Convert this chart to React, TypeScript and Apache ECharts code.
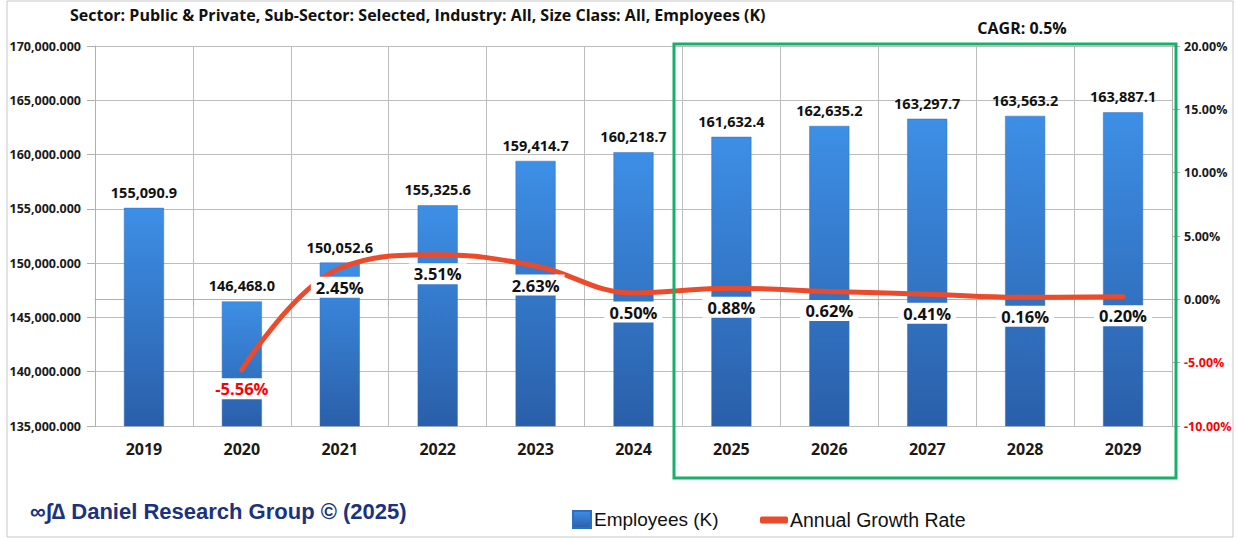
import React, { useEffect, useRef } from "react";
import * as echarts from "echarts";

const categories = ["2019", "2020", "2021", "2022", "2023", "2024", "2025", "2026", "2027", "2028", "2029"];
const employees = [155090.9, 146468.0, 150052.6, 155325.6, 159414.7, 160218.7, 161632.4, 162635.2, 163297.7, 163563.2, 163887.1];
const growth: (number | null)[] = [null, -5.56, 2.45, 3.51, 2.63, 0.5, 0.88, 0.62, 0.41, 0.16, 0.2];
const titleText = "Sector: Public & Private, Sub-Sector: Selected, Industry: All, Size Class: All, Employees (K)";
const cagrText = "CAGR: 0.5%";
const logoText = "\u221e\u222b\u2206 Daniel Research Group \u00a9 (2025)";

const FONT = "'Open Sans', Lato, sans-serif";
const NARROW = "'Liberation Sans Narrow', 'Liberation Sans', sans-serif";

export default function App() {
  const ref = useRef<HTMLDivElement>(null);
  useEffect(() => {
    document.body.style.margin = "0";
    if (!ref.current) return;
    const chart = echarts.init(ref.current, null, { renderer: "svg" });
    const option: any = {
      animation: false,
      backgroundColor: "#ffffff",
      textStyle: { fontFamily: FONT },
      grid: { left: 95, right: 65, top: 46, bottom: 113 },
      xAxis: {
        type: "category",
        data: categories,
        boundaryGap: true,
        axisLine: { lineStyle: { color: "#b0b0b0" } },
        axisTick: { show: true, length: 6, lineStyle: { color: "#b0b0b0" } },
        splitLine: { show: true, lineStyle: { color: "#bdbdbd" } },
        axisLabel: { color: "#1a1a1a", fontWeight: "bold", fontSize: 16, margin: 15, fontFamily: FONT },
      },
      yAxis: [
        {
          type: "value",
          min: 135000,
          max: 170000,
          interval: 5000,
          axisLine: { show: true, lineStyle: { color: "#b0b0b0" } },
          axisTick: { show: true, length: 8, lineStyle: { color: "#b0b0b0" } },
          splitLine: { show: true, lineStyle: { color: "#bdbdbd" } },
          axisLabel: {
            color: "#1a1a1a",
            fontWeight: "bold",
            fontSize: 12.5,
            margin: 14,
            fontFamily: FONT,
            formatter: (v: number) =>
              v.toLocaleString("en-US", { minimumFractionDigits: 3, maximumFractionDigits: 3 }),
          },
        },
        {
          type: "value",
          min: -10,
          max: 20,
          interval: 5,
          position: "right",
          axisLine: { show: true, lineStyle: { color: "#b0b0b0" } },
          axisTick: { show: true, length: 8, lineStyle: { color: "#b0b0b0" } },
          splitLine: { show: false },
          axisLabel: {
            fontWeight: "bold",
            fontSize: 12.5,
            margin: 12,
            fontFamily: FONT,
            formatter: (v: number) => v.toFixed(2) + "%",
            color: (v: any) => (Number(v) < 0 ? "#ff0000" : "#1a1a1a"),
          },
        },
      ],
      legend: [
        {
          data: [{ name: "Employees (K)", icon: "rect" }],
          left: 572,
          top: 510,
          itemWidth: 18,
          itemHeight: 17,
          itemGap: 4,
          padding: 0,
          textStyle: { fontSize: 19, color: "#111", fontFamily: NARROW, padding: [0, 0, 0, -2] },
        },
        {
          data: [{ name: "Annual Growth Rate", icon: "roundRect" }],
          left: 760,
          top: 510,
          itemWidth: 28,
          itemHeight: 7,
          padding: 0,
          textStyle: { fontSize: 19.5, color: "#111", fontFamily: NARROW, padding: [0, 0, 0, -3] },
        },
      ],
      series: [
        {
          name: "Employees (K)",
          type: "bar",
          yAxisIndex: 0,
          barWidth: 40,
          data: employees,
          itemStyle: {
            color: new echarts.graphic.LinearGradient(0, 0, 0, 1, [
              { offset: 0, color: "#3d8fe6" },
              { offset: 1, color: "#2a5fa9" },
            ]),
            borderColor: "#2f6fc0",
            borderWidth: 0.5,
          },
          label: {
            show: true,
            position: "top",
            distance: 8,
            color: "#111",
            fontWeight: "bold",
            fontSize: 14.5,
            fontFamily: FONT,
            formatter: (p: any) =>
              Number(p.value).toLocaleString("en-US", { minimumFractionDigits: 1, maximumFractionDigits: 1 }),
          },
          z: 2,
        },
        {
          name: "Annual Growth Rate",
          type: "line",
          yAxisIndex: 1,
          smooth: 0.4,
          symbol: "circle",
          symbolSize: 1,
          itemStyle: { color: "#ec4b2b" },
          lineStyle: { color: "#ec4b2b", width: 5, cap: "round" },
          data: growth.map((g) =>
            g === null ? null : g < 0 ? { value: g, label: { color: "#ff0000" } } : g
          ),
          label: {
            show: true,
            position: "bottom",
            distance: 8,
            color: "#111",
            fontWeight: "bold",
            fontSize: 16.5,
            fontFamily: FONT,
            backgroundColor: "#ffffff",
            padding: [2, 5, 2, 5],
            formatter: (p: any) => Number(p.value).toFixed(2) + "%",
          },
          z: 3,
        },
      ],
      graphic: [
        {
          type: "rect",
          shape: { x: 7, y: 1, width: 1226, height: 536 },
          style: { fill: "none", stroke: "#c8c8c8", lineWidth: 1 },
          silent: true,
          z: 0,
        },
        {
          type: "rect",
          shape: { x: 674, y: 44, width: 502, height: 434 },
          style: { fill: "none", stroke: "#17b06b", lineWidth: 3 },
          silent: true,
          z: 10,
        },
        {
          type: "text",
          left: 70,
          top: 7,
          style: { text: titleText, fontSize: 16, fontWeight: "bold", fill: "#111", fontFamily: FONT },
          z: 10,
        },
        {
          type: "text",
          x: 1022,
          y: 28,
          style: {
            text: cagrText,
            fontSize: 16,
            fontWeight: "bold",
            fill: "#111",
            fontFamily: FONT,
            align: "center",
            verticalAlign: "middle",
          },
          z: 10,
        },
        {
          type: "text",
          left: 30,
          top: 500,
          style: {
            text: logoText,
            fontSize: 22,
            fontWeight: "bold",
            fill: "#1b3280",
            fontFamily: NARROW,
          },
          z: 10,
        },
      ],
    };
    chart.setOption(option);
    return () => chart.dispose();
  }, []);
  return <div ref={ref} style={{ width: 1237, height: 539 }} />;
}
